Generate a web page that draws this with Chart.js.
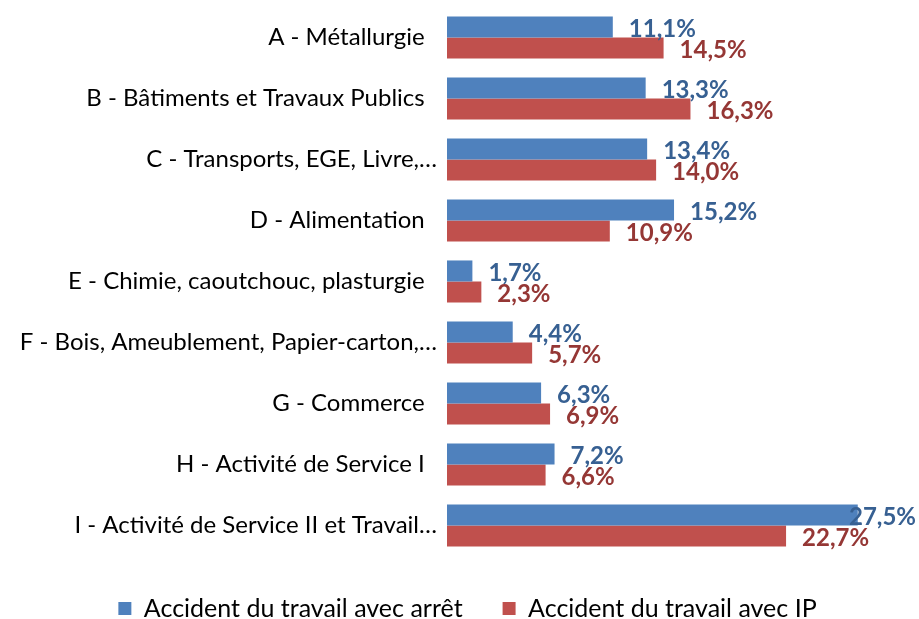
<!DOCTYPE html>
<html>
<head>
<meta charset="utf-8">
<script src="https://cdn.jsdelivr.net/npm/chart.js@4"></script>
<style>
	html, body { margin: 0; padding: 0; background: #fff; }
	#wrap { width: 919px; height: 619px; }
</style>
</head>
<body>
<div id="wrap"><canvas id="secteurs"></canvas></div>
<script>
var categories = ['A - Métallurgie', 'B - Bâtiments et Travaux Publics', 'C - Transports, EGE, Livre,…', 'D - Alimentation', 'E - Chimie, caoutchouc, plasturgie', 'F - Bois, Ameublement, Papier-carton,…', 'G - Commerce', 'H - Activité de Service I', 'I - Activité de Service II et Travail…'];
var arretValues = [11.1, 13.3, 13.4, 15.2, 1.7, 4.4, 6.3, 7.2, 27.5];
var ipValues = [14.5, 16.3, 14.0, 10.9, 2.3, 5.7, 6.9, 6.6, 22.7];
var seriesNames = ['Accident du travail avec arrêt', 'Accident du travail avec IP'];

var fontName = 'Lato, "Open Sans", sans-serif';

// étiquettes de valeur au bout des barres
var valueLabels = {
	id: 'valueLabels',
	afterDatasetsDraw: function(chart) {
		var ctx = chart.ctx;
		var labelColors = ['#376092', '#953735'];
		ctx.save();
		ctx.font = 'bold 24px ' + fontName;
		ctx.textBaseline = 'middle';
		ctx.textAlign = 'left';
		chart.data.datasets.forEach(function(ds, i) {
			var meta = chart.getDatasetMeta(i);
			ctx.fillStyle = labelColors[i];
			meta.data.forEach(function(bar, j) {
				var txt = ds.data[j].toFixed(1).replace('.', ',') + '%';
				var w = ctx.measureText(txt).width;
				var x = bar.x + 16;
				if (x + w > chart.width - 3) x = chart.width - 3 - w;
				ctx.fillText(txt, x, bar.y + 2);
			});
		});
		ctx.restore();
	}
};

// décale la légende vers la droite comme dans Excel
var legendShift = {
	id: 'legendShift',
	afterLayout: function(chart) {
		if (chart.legend) {
			chart.legend.left += 8;
			chart.legend.right += 8;
		}
	}
};

var secteurs_chart = document.getElementById('secteurs').getContext('2d');
var secteurs = new Chart(secteurs_chart, {
	type: 'bar',
	data: {
		labels: categories,
		datasets: [{
			label: seriesNames[0],
			data: arretValues,
			backgroundColor: '#4F81BD',
			categoryPercentage: 0.69,
			barPercentage: 1
		}, {
			label: seriesNames[1],
			data: ipValues,
			backgroundColor: '#C0504D',
			categoryPercentage: 0.69,
			barPercentage: 1
		}]
	},
	options: {
		indexAxis: 'y',
		responsive: true,
		maintainAspectRatio: false,
		animation: false,
		layout: {
			padding: { top: 7, right: 0, bottom: 0, left: 0 }
		},
		scales: {
			x: {
				display: false,
				min: 0,
				max: 31.6
			},
			y: {
				grid: { display: false },
				border: { display: false },
				ticks: {
					color: '#000',
					padding: 2,
					font: { family: fontName, size: 24 },
					callback: function(value) {
						var lbl = this.getLabelForValue(value);
						// les libellés complets sont suivis d'espaces
						return lbl.slice(-1) === '…' ? lbl : lbl + '  ';
					}
				},
				afterFit: function(scale) {
					scale.width = 447;
					scale.paddingTop = 0;
					scale.paddingBottom = 0;
				}
			}
		},
		plugins: {
			legend: {
				position: 'bottom',
				maxHeight: 63,
				labels: {
					color: '#000',
					boxWidth: 13,
					boxHeight: 13,
					padding: 40,
					font: { family: fontName, size: 25 }
				}
			},
			tooltip: { enabled: false }
		}
	},
	plugins: [valueLabels, legendShift]
});
</script>
</body>
</html>
